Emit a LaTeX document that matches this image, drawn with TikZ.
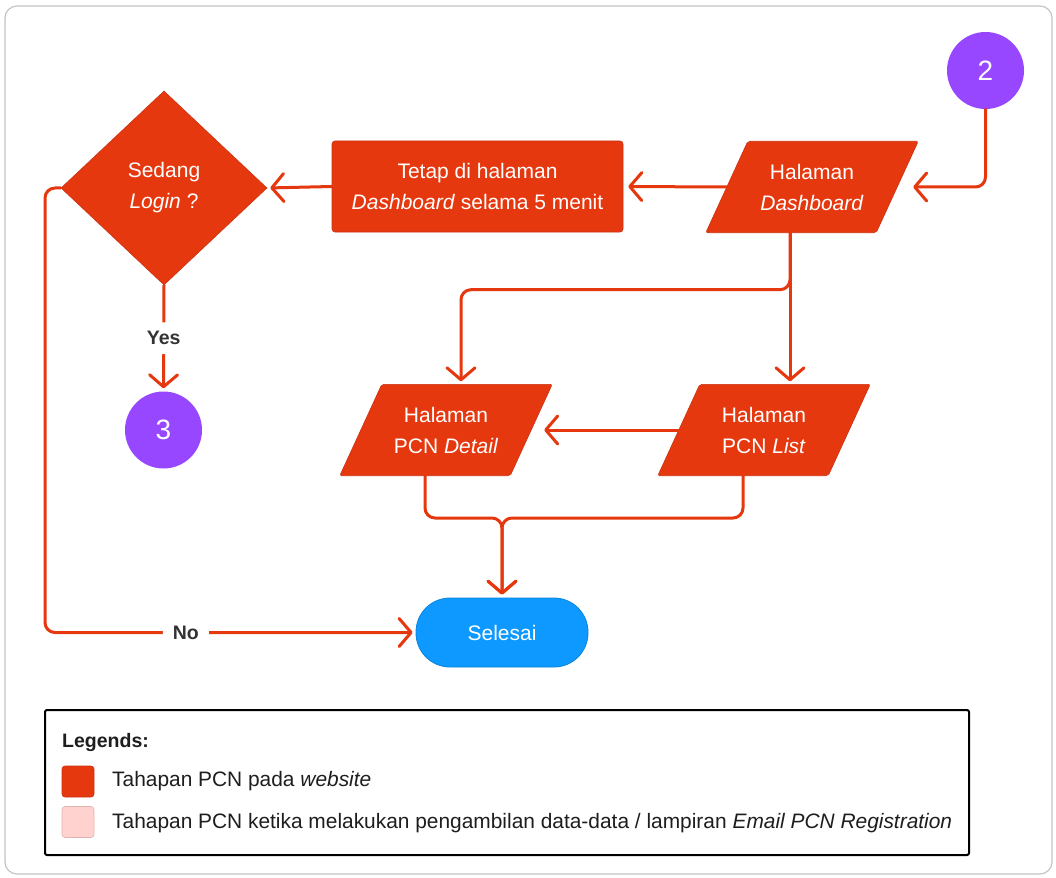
\documentclass[tikz,border=0pt]{standalone}
\usepackage{fontspec}
\setmainfont{Liberation Sans}
\usetikzlibrary{shapes.geometric,arrows.meta,backgrounds,calc}

\definecolor{flowred}{HTML}{E5380F}
\definecolor{flowedge}{HTML}{CC3110}
\definecolor{connpurple}{HTML}{9747FF}
\definecolor{endblue}{HTML}{0D99FF}
\definecolor{endedge}{HTML}{0A84DB}
\definecolor{legpink}{HTML}{FFD1CF}
\definecolor{pinkedge}{HTML}{E3B3B0}
\definecolor{labelgray}{HTML}{333333}
\definecolor{framegray}{HTML}{C4C4C4}
\definecolor{inkblack}{HTML}{1E1E1E}

\tikzset{
  txt/.style={font=\fontsize{21}{31}\selectfont, text=white, align=center},
  stepbox/.style={txt, draw=flowedge, line width=0.6pt, fill=flowred, rounded corners=3pt,
    minimum width=291pt, minimum height=91pt, inner sep=0pt},
  decision/.style={txt, diamond, draw=flowedge, line width=0.6pt, fill=flowred,
    minimum width=206pt, minimum height=194pt, inner sep=0pt},
  iobox/.style={txt, minimum width=170pt, minimum height=91pt, inner sep=0pt},
  iofill/.style={fill=flowred, draw=flowedge, line width=0.6pt, rounded corners=2pt},
  connector/.style={circle, fill=connpurple, text=white, minimum size=77pt, inner sep=0pt,
    font=\fontsize{28}{30}\selectfont},
  terminal/.style={txt, fill=endblue, draw=endedge, line width=0.8pt, rounded corners=34pt,
    minimum width=172pt, minimum height=69pt, inner sep=0pt},
  flow/.style={draw=flowred, line width=3pt, rounded corners=10pt, line cap=round},
  arrow/.style={flow, -{Straight Barb[length=12pt,width=28pt,round]}, shorten >=3pt},
  branchlabel/.style={fill=white, text=labelgray, font=\fontsize{19.5}{22}\selectfont\bfseries,
    inner xsep=10pt, inner ysep=9pt},
  legendtext/.style={font=\fontsize{20.9}{22}\selectfont, text=inkblack, anchor=west, inner sep=0pt},
  swatch/.style={minimum width=32pt, minimum height=31pt, rounded corners=3pt, inner sep=0pt,
    line width=0.6pt}
}

\begin{document}
\begin{tikzpicture}[x=1pt,y=-1pt]
\useasboundingbox (0,0) rectangle (1056,877);

% outer card
\draw[framegray, line width=1.2pt, rounded corners=12pt] (5,6) rectangle (1052,874);

% process nodes
\node[decision] (login) at (164,188) {Sedang\\\textit{Login} ?};
\node[stepbox] (stay) at (477.5,186.5) {Tetap di halaman\\\textit{Dashboard} selama 5 menit};
\node[iobox] (dash) at (812,187) {Halaman\\\textit{Dashboard}};
\node[connector] (c2) at (985.5,70.5) {2};
\node[iobox] (detail) at (446,430) {Halaman\\PCN \textit{Detail}};
\node[iobox] (list) at (764,430) {Halaman\\PCN \textit{List}};
\node[connector] (c3) at (163.5,430) {3};
\node[terminal] (done) at (502,632.5) {Selesai};

% slanted page shapes behind their labels
\begin{scope}[on background layer]
  \fill[white] (0,0) rectangle (1056,877);
  \foreach \n in {dash,detail,list}
    \path[iofill] ([xshift=21pt]\n.north west) -- ([xshift=21pt]\n.north east)
      -- ([xshift=-21pt]\n.south east) -- ([xshift=-21pt]\n.south west) -- cycle;
\end{scope}

% connectors
\draw[arrow] (c2.south) |- ([xshift=13pt]dash.east);
\draw[arrow, shorten >=5pt] (dash.west) -- (stay.east);
\draw[arrow] (stay.west) -- (login.east);
\draw[arrow] ([xshift=-22pt]dash.south) -- ([xshift=-22pt]dash.south |- list.north);
\draw[arrow] ([xshift=-22pt]dash.south) -- ++(0,57) -| ([xshift=15pt]detail.north);
\draw[arrow] (list.west) -- ([xshift=10pt]detail.east);

\coordinate (merge) at (502,518);
\draw[arrow] ([xshift=-21pt]detail.south) |- (merge) -- (done.north);
\draw[arrow] ([xshift=-21pt]list.south) |- (merge) -- (done.north);

\draw[arrow] (login.south) -- node[branchlabel] {Yes} (c3.north);

\coordinate (noturn) at (45,632.5);
\draw[arrow] (login.west) -| (noturn) -- node[branchlabel, pos=0.38] {No} (done.west);

% legend
\node[draw=black, line width=2pt, rounded corners=2pt, minimum width=924pt,
  minimum height=145pt, inner sep=0pt] (legend) at (507,782.5) {};
\node[legendtext, font=\fontsize{19.5}{22}\selectfont\bfseries] (legtitle) at (62,742) {Legends:};
\node[swatch, fill=flowred, draw=flowedge] (sw1) at (78,781.5) {};
\node[legendtext] (lt1) at (112,781) {Tahapan PCN pada \textit{website}};
\node[swatch, fill=legpink, draw=pinkedge] (sw2) at (78,822) {};
\node[legendtext] (lt2) at (112,823) {Tahapan PCN ketika melakukan pengambilan data-data / lampiran \textit{Email PCN Registration}};
\end{tikzpicture}
\end{document}
